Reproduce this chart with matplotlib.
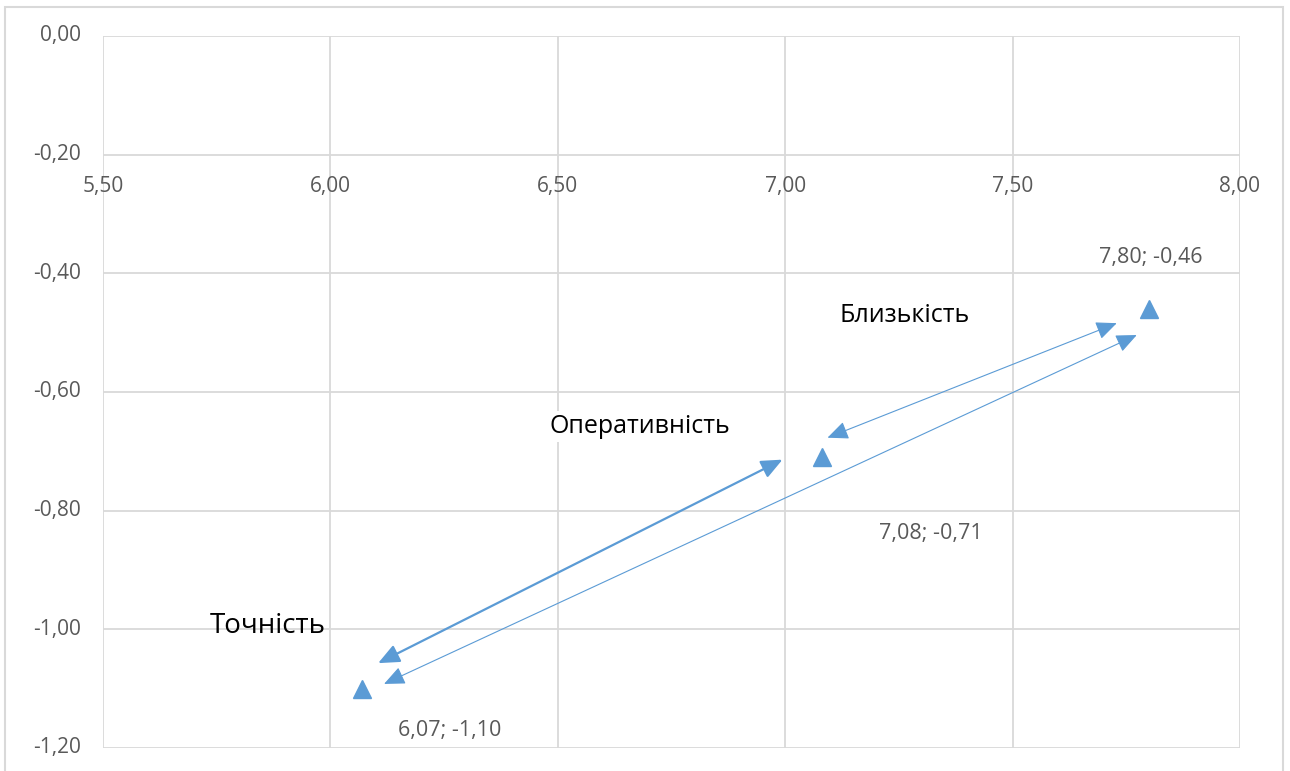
import matplotlib.pyplot as plt
from matplotlib.patches import Rectangle, FancyArrowPatch

# data
names = ['Точність', 'Оперативність', 'Близькість']
x_vals = [6.07, 7.08, 7.80]
y_vals = [-1.10, -0.71, -0.46]
x_ticks = [5.5, 6.0, 6.5, 7.0, 7.5, 8.0]
y_ticks = [0.0, -0.2, -0.4, -0.6, -0.8, -1.0, -1.2]
# arrows between the points: (x0, y0, x1, y1, thick)
arrows = [
    (6.105, -1.057, 6.994, -0.714, True),
    (7.093, -0.677, 7.729, -0.484, False),
    (6.118, -1.092, 7.773, -0.504, False),
]

fam = ['Open Sans', 'DejaVu Sans']
blue = '#5B9BD5'
grid = '#D9D9D9'
grey = '#595959'

def fmt(v):
    return f'{v:.2f}'.replace('.', ',')

fig = plt.figure(figsize=(12.9, 7.71), dpi=100)
fig.patches.append(Rectangle((5/1290, -0.1), 1278/1290, 1.1 - 7/771, transform=fig.transFigure,
                             fill=False, edgecolor=grid, lw=1.5))
ax = fig.add_axes([103/1290, 1 - 748/771, 1137/1290, 712/771])
ax.set_xlim(5.5, 8.0)
ax.set_ylim(-1.2, 0.0)

for x in x_ticks:
    ax.axvline(x, color=grid, lw=1.3, zorder=0)
for y in y_ticks:
    ax.axhline(y, color=grid, lw=1.3, zorder=0)
for s in ax.spines.values():
    s.set_visible(False)

ax.set_xticks([])
ax.set_yticks([])
for x in x_ticks:
    ax.annotate(fmt(x), (x, -0.2), xytext=(0, -23), textcoords='offset points',
                ha='center', va='center', fontsize=15, color=grey, family=fam)
for y in y_ticks:
    ax.annotate(fmt(y), (5.5, y), xytext=(-16, 0), textcoords='offset points',
                ha='right', va='center', fontsize=15, color=grey, family=fam)

for x0, y0, x1, y1, thick in arrows:
    ar = FancyArrowPatch((x0, y0), (x1, y1), arrowstyle='<|-|>,head_length=0.8,head_width=0.35',
                         mutation_scale=16, color=blue, lw=1.6 if thick else 0.8,
                         shrinkA=0, shrinkB=0, zorder=3)
    ax.add_patch(ar)

ax.plot(x_vals, y_vals, linestyle='none', marker='^', ms=13, color=blue, zorder=4, clip_on=False)

label_off = [(63, -30), (79, -55), (1, 37)]
name_off = [(-68, 45), (-131, 22), (-176, -5)]
name_size = [20, 18, 18]
for i in range(len(names)):
    ax.annotate(f'{fmt(x_vals[i])}; {fmt(y_vals[i])}', (x_vals[i], y_vals[i]), xytext=label_off[i],
                textcoords='offset points', ha='center', va='center', fontsize=15.5,
                color=grey, family=fam)
    bg = dict(facecolor='white', edgecolor='none', pad=2) if i == 1 else None
    ax.annotate(names[i], (x_vals[i], y_vals[i]), xytext=name_off[i],
                textcoords='offset points', ha='center', va='center', fontsize=name_size[i],
                color='black', family=fam, bbox=bg)

fig.savefig('out.png', dpi=100)
